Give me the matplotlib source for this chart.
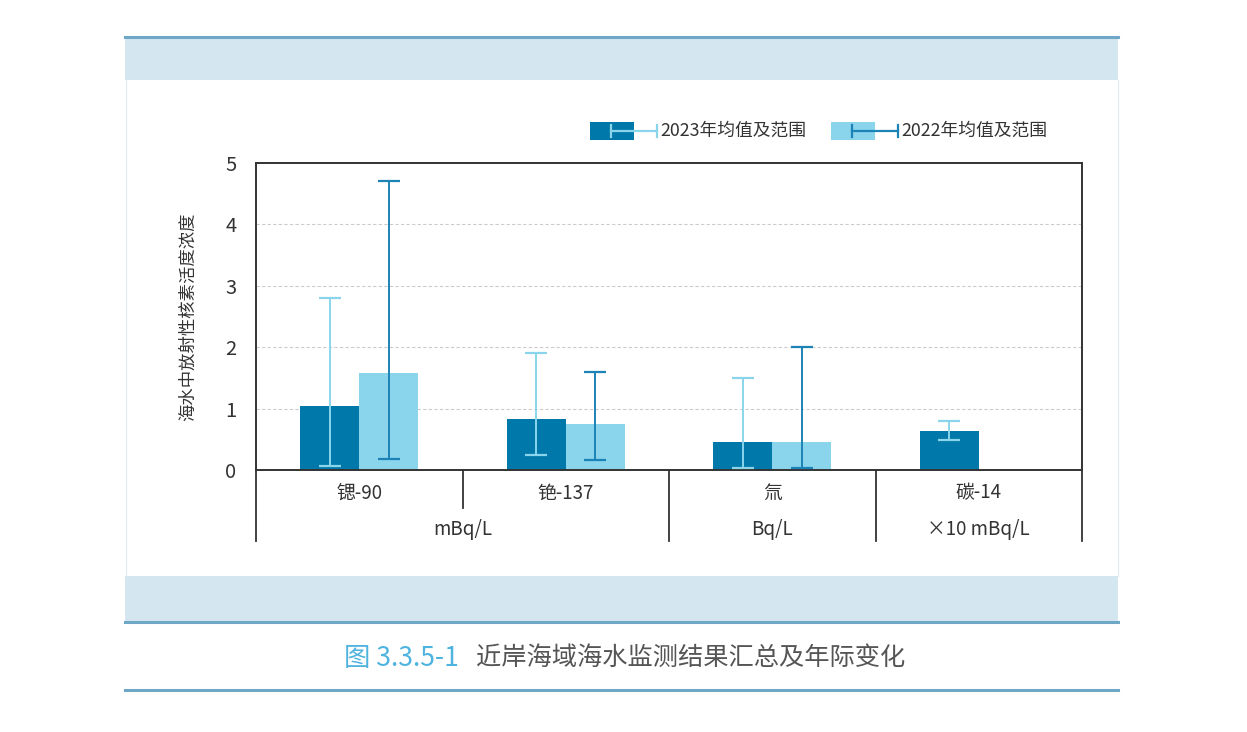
import matplotlib
matplotlib.use("Agg")
import matplotlib.pyplot as plt
import numpy as np
from matplotlib.patches import Rectangle
from matplotlib.lines import Line2D

plt.rcParams['font.family'] = ['Noto Sans CJK SC', 'DejaVu Sans']

categories = ['锶-90', '铯-137', '氚', '碳-14']
units = ['mBq/L', 'Bq/L', '×10 mBq/L']
mean_2023 = [1.04, 0.83, 0.45, 0.63]
min_2023 = [0.07, 0.25, 0.03, 0.49]
max_2023 = [2.80, 1.90, 1.50, 0.80]
mean_2022 = [1.58, 0.75, 0.46, np.nan]
min_2022 = [0.18, 0.16, 0.03, np.nan]
max_2022 = [4.70, 1.60, 2.00, np.nan]
legend_labels = ['2023年均值及范围', '2022年均值及范围']
ylabel = '海水中放射性核素活度浓度'
caption_num = '图 3.3.5-1'
caption_text = '近岸海域海水监测结果汇总及年际变化'

DARK = '#0078A9'
LIGHT = '#8AD5EC'
ERR_DARK = '#1C83B6'
BAND = '#D4E6F0'
BAND_LINE = '#6FA7C6'

W, H = 1247, 732
fig = plt.figure(figsize=(W / 100, H / 100), dpi=100)

def fx(px):
    return px / W

def fy(py):
    return 1 - py / H

# background bands
fig.patches.append(Rectangle((fx(125), fy(80)), fx(1118) - fx(125), fy(37) - fy(80),
                             transform=fig.transFigure, facecolor=BAND, edgecolor='none'))
fig.patches.append(Rectangle((fx(125), fy(621)), fx(1118) - fx(125), fy(576) - fy(621),
                             transform=fig.transFigure, facecolor=BAND, edgecolor='none'))
for yy in [36.5, 622, 689.5]:
    fig.lines.append(Line2D([fx(125), fx(1118)], [fy(yy), fy(yy)], transform=fig.transFigure,
                            color=BAND_LINE, lw=2.2))
for xx in [125.5, 1118]:
    fig.lines.append(Line2D([fx(xx), fx(xx)], [fy(80), fy(576)], transform=fig.transFigure,
                            color='#DCEAF2', lw=0.8))

ax = fig.add_axes([fx(256), fy(470), fx(1082) - fx(256), fy(163) - fy(470)])
x = np.arange(len(categories))
bw = 0.286
off = bw / 2

m23 = np.array(mean_2023)
m22 = np.array(mean_2022)
ax.bar(x - off, m23, bw, color=DARK, edgecolor='none', zorder=2)
ax.bar(x + off, m22, bw, color=LIGHT, edgecolor='none', zorder=2)

err23 = [m23 - np.array(min_2023), np.array(max_2023) - m23]
err22 = [m22 - np.array(min_2022), np.array(max_2022) - m22]
ax.errorbar(x - off, m23, yerr=err23, fmt='none', ecolor=LIGHT, elinewidth=1.4,
            capsize=8, capthick=1.6, zorder=3)
ax.errorbar(x + off, m22, yerr=err22, fmt='none', ecolor=ERR_DARK, elinewidth=1.4,
            capsize=8, capthick=1.6, zorder=3)

ax.set_xlim(-0.5, 3.5)
ax.set_ylim(0, 5)
ax.set_yticks([0, 1, 2, 3, 4, 5])
ax.set_xticks([])
ax.tick_params(axis='y', length=0, labelsize=14.5, labelcolor='#333333', pad=14)
ax.yaxis.grid(True, linestyle=(0, (3, 2)), color='#CCCCCC', lw=0.8, zorder=0)
ax.set_axisbelow(True)
for s in ax.spines.values():
    s.set_color('#333333')
    s.set_linewidth(1.4)
ax.set_ylabel(ylabel, fontsize=12.5, color='#333333', labelpad=20)

# category table below axis
trans = ax.get_xaxis_transform()
for xb, ybot in [(-0.5, -0.231), (0.5, -0.124), (1.5, -0.231), (2.5, -0.231), (3.5, -0.231)]:
    ax.plot([xb, xb], [0, ybot], transform=trans, color='#333333', lw=1.3, clip_on=False)
for xi, c in zip(x, categories):
    ax.text(xi, -0.075, c, transform=trans, ha='center', va='center', fontsize=13.5,
            color='#333333')
unit_pos = [0.5, 2, 3]
for xu, u in zip(unit_pos, units):
    ax.text(xu, -0.193, u, transform=trans, ha='center', va='center', fontsize=13.5,
            color='#333333')

# legend (manual)
def legend_item(px0, patch_col, err_col, label):
    fig.patches.append(Rectangle((fx(px0), fy(140)), fx(44), fy(122) - fy(140),
                                 transform=fig.transFigure, facecolor=patch_col, edgecolor='none'))
    yl = fy(131)
    fig.lines.append(Line2D([fx(px0 + 21), fx(px0 + 67)], [yl, yl], transform=fig.transFigure,
                            color=err_col, lw=1.6))
    for cx in [px0 + 21, px0 + 67]:
        fig.lines.append(Line2D([fx(cx), fx(cx)], [fy(125), fy(137)], transform=fig.transFigure,
                                color=err_col, lw=1.6))
    fig.text(fx(px0 + 70), yl, label, ha='left', va='center', fontsize=12.8, color='#333333')

legend_item(590, DARK, LIGHT, legend_labels[0])
legend_item(831, LIGHT, ERR_DARK, legend_labels[1])

# caption
t1 = fig.text(fx(344), fy(658), caption_num, ha='left', va='center', fontsize=19, color='#4EB4DF')
fig.canvas.draw()
bb = t1.get_window_extent()
fig.text(bb.x1 / W + fx(17), fy(658), caption_text, ha='left', va='center', fontsize=18.2,
         color='#555555')

fig.savefig('out.png', dpi=100, facecolor='white')
